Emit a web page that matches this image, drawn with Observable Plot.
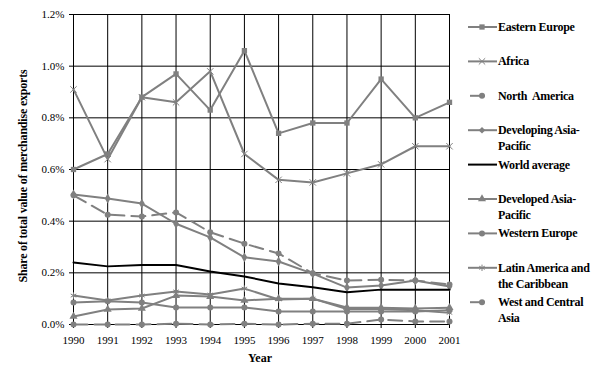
<!DOCTYPE html>
<html>
<head>
<meta charset="utf-8">
<script src="https://cdn.jsdelivr.net/npm/d3@7"></script>
<script src="https://cdn.jsdelivr.net/npm/@observablehq/plot@0.6"></script>
<style>
  html, body { margin: 0; padding: 0; background: #fff; }
  #chart svg { display: block; }
  #chart svg text { font-family: "Liberation Serif", "Times New Roman", serif !important; }
</style>
</head>
<body>
<div id="chart"></div>
<script>
const years = [1990, 1991, 1992, 1993, 1994, 1995, 1996, 1997, 1998, 1999, 2000, 2001];
const easternEurope   = [0.60, 0.66, 0.88, 0.97, 0.83, 1.06, 0.74, 0.78, 0.78, 0.95, 0.80, 0.86];
const africa          = [0.91, 0.64, 0.88, 0.86, 0.98, 0.66, 0.56, 0.55, 0.585, 0.62, 0.69, 0.69];
const northAmerica    = [0.50, 0.425, 0.418, 0.434, 0.357, 0.313, 0.275, 0.198, 0.17, 0.173, 0.17, 0.155];
const developingAP    = [0.503, 0.488, 0.468, 0.39, 0.337, 0.26, 0.244, 0.197, 0.143, 0.151, 0.17, 0.147];
const worldAverage    = [0.24, 0.225, 0.23, 0.23, 0.205, 0.186, 0.159, 0.144, 0.125, 0.135, 0.135, 0.135];
const developedAP     = [0.031, 0.058, 0.062, 0.112, 0.108, 0.093, 0.10, 0.10, 0.066, 0.065, 0.062, 0.065];
const westernEurope   = [0.085, 0.09, 0.085, 0.066, 0.066, 0.066, 0.05, 0.05, 0.05, 0.05, 0.05, 0.055];
const latinAmerica    = [0.112, 0.093, 0.112, 0.128, 0.116, 0.139, 0.097, 0.10, 0.06, 0.06, 0.055, 0.045];
const westCentralAsia = [0.0, 0.0, 0.0, 0.003, 0.0, 0.003, 0.0, 0.003, 0.003, 0.019, 0.012, 0.012];
const yTicks = [0, 0.2, 0.4, 0.6, 0.8, 1.0, 1.2];

const series = [
  {name: ["Eastern Europe"], values: easternEurope, symbol: "square", color: "#808080", dash: null},
  {name: ["Africa"], values: africa, symbol: "times", color: "#808080", dash: null},
  {name: ["North  America"], values: northAmerica, symbol: "circle", color: "#808080", dash: "14,7"},
  {name: ["Developing Asia-", "Pacific"], values: developingAP, symbol: "diamond", color: "#808080", dash: null},
  {name: ["World average"], values: worldAverage, symbol: null, color: "#000000", dash: null},
  {name: ["Developed Asia-", "Pacific"], values: developedAP, symbol: "triangle", color: "#808080", dash: null},
  {name: ["Western Europe"], values: westernEurope, symbol: "circle", color: "#808080", dash: null},
  {name: ["Latin America and", "the Caribbean"], values: latinAmerica, symbol: "asterisk", color: "#808080", dash: null},
  {name: ["West and Central", "Asia"], values: westCentralAsia, symbol: "circle", color: "#808080", dash: "14,7"}
];

const rows = [];
series.forEach((s, si) => years.forEach((yr, i) => rows.push({si, year: yr, value: s.values[i]})));

const font = "'Liberation Serif', 'Times New Roman', serif";

const marks = [
  Plot.gridX(years, {x: d => d, stroke: "#000", strokeOpacity: 1, strokeWidth: 1}),
  Plot.gridY(yTicks, {y: d => d, stroke: "#000", strokeOpacity: 1, strokeWidth: 1}),
  Plot.axisX(years, {tickSize: 4, tickPadding: 8, tickFormat: d => String(d), fontSize: 11, label: null}),
  Plot.axisY(yTicks, {tickSize: 4, tickPadding: 5, tickFormat: d => d.toFixed(1) + "%", fontSize: 11, label: null})
];
series.forEach((s, si) => {
  const data = rows.filter(r => r.si === si);
  marks.push(Plot.line(data, {x: "year", y: "value", stroke: s.color, strokeWidth: 2,
    strokeDasharray: s.dash, strokeLinejoin: "miter"}));
  if (s.symbol) {
    const filled = s.symbol !== "times" && s.symbol !== "asterisk";
    marks.push(Plot.dot(data, {x: "year", y: "value", symbol: () => s.symbol, r: 3,
      fill: filled ? s.color : "none", stroke: s.color, strokeWidth: filled ? 0 : 1}));
  }
});

const chart = Plot.plot({
  width: 605,
  height: 371,
  marginLeft: 73,
  marginRight: 156,
  marginTop: 14,
  marginBottom: 47,
  style: {fontFamily: font, fontSize: "11px", color: "#000", background: "#fff"},
  x: {domain: [1990, 2001]},
  y: {domain: [0, 1.2]},
  symbol: {type: "identity"},
  marks
});

const svg = d3.select(chart);
// axis titles
svg.append("text")
  .attr("x", 260).attr("y", 362)
  .attr("text-anchor", "middle")
  .attr("font-family", font).attr("font-size", 12).attr("font-weight", "bold")
  .text("Year");
svg.append("text")
  .attr("transform", "translate(27,176) rotate(-90)")
  .attr("text-anchor", "middle")
  .attr("font-family", font).attr("font-size", 12).attr("font-weight", "bold")
  .attr("letter-spacing", "-0.2")
  .text("Share of total value of merchandise exports");

// legend
const symMap = {square: d3.symbolSquare, times: d3.symbolTimes, circle: d3.symbolCircle,
  diamond: d3.symbolDiamond2, triangle: d3.symbolTriangle, asterisk: d3.symbolAsterisk};
const lg = svg.append("g");
series.forEach((s, i) => {
  const cy = 27 + i * 34.4;
  const g = lg.append("g").attr("transform", `translate(0,${cy})`);
  const x0 = s.dash ? 470 : 468, x1 = s.dash ? 485 : 497;
  g.append("line").attr("x1", x0).attr("x2", x1).attr("y1", 0).attr("y2", 0)
    .attr("stroke", s.color).attr("stroke-width", 2);
  if (s.symbol) {
    const filled = s.symbol !== "times" && s.symbol !== "asterisk";
    g.append("path").attr("transform", `translate(482,0)`)
      .attr("d", d3.symbol(symMap[s.symbol], 28)())
      .attr("fill", filled ? s.color : "none").attr("stroke", filled ? "none" : s.color);
  }
  const tx = 498;
  const t = g.append("text").attr("x", tx).attr("y", 4)
    .attr("text-anchor", "start")
    .attr("font-family", font).attr("font-size", 12).attr("font-weight", "bold")
    .attr("letter-spacing", "-0.3");
  s.name.forEach((ln, j) => t.append("tspan").attr("x", tx).attr("dy", j === 0 ? 0 : 16).text(ln));
});

document.getElementById("chart").appendChild(chart);
</script>
</body>
</html>
